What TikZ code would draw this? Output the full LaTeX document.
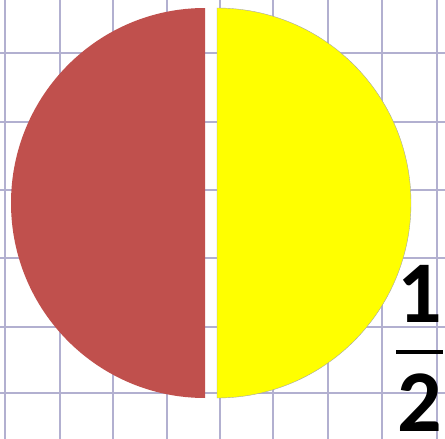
\documentclass[tikz,border=0pt]{standalone}
\usepackage{fontspec}
\newfontfamily\fracfont{Carlito}
\definecolor{gridc}{RGB}{178,176,208}
\definecolor{halfred}{RGB}{192,80,77}
\definecolor{halfyel}{RGB}{255,255,0}
\begin{document}
\begin{tikzpicture}[x=1pt,y=-1pt,
  gridline/.style={draw=gridc,line width=1.7pt},
  digit/.style={font=\fracfont\bfseries\fontsize{88}{88}\selectfont,inner sep=0pt,anchor=base}]
\useasboundingbox (0,0) rectangle (445,439);
\fill[white] (0,0) rectangle (445,439);
\foreach \gx in {5,60,113,167,220,273,328,382,437}
  \draw[gridline] (\gx,0) -- (\gx,439);
\foreach \gy in {53,122,190,258,327,393}
  \draw[gridline] (0,\gy) -- (445,\gy);
% left half
\fill[halfred] (205,8) arc[start angle=90,end angle=270,x radius=194,y radius=-195] -- cycle;
% right half
\filldraw[fill=halfyel,draw=gray!70,line width=0.4pt] (217,8) arc[start angle=90,end angle=-90,x radius=194,y radius=-195] -- cycle;
% fraction
\node[digit] (one) at (420,322) {1};
\node[digit] (two) at (420,431) {2};
\coordinate (barL) at (396,352);
\coordinate (barR) at (443,352);
\draw[line width=4.5pt] (barL) -- (barR);
\end{tikzpicture}
\end{document}
